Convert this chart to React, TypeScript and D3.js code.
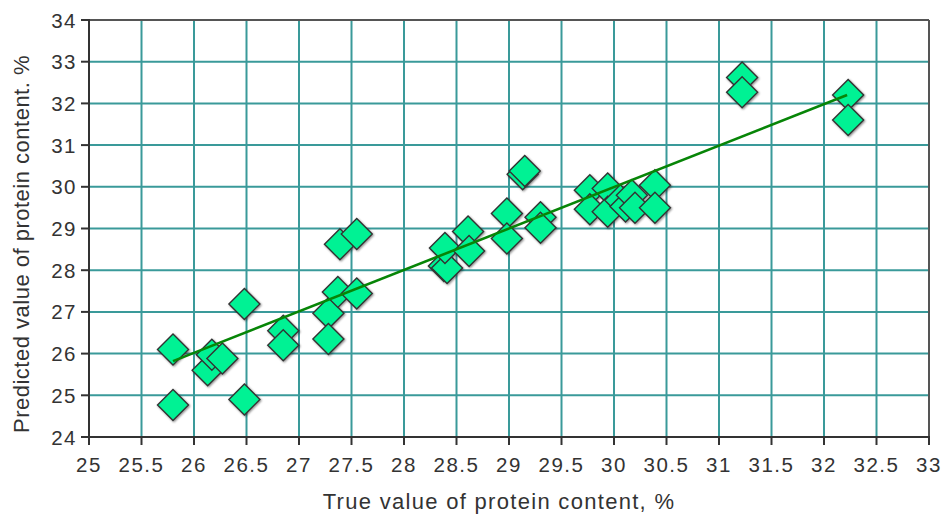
import React from "react";
import * as d3 from "d3";

// Measured protein content (true vs. predicted), %
const trueValues = [
  25.8, 25.8, 26.13, 26.17, 26.27, 26.48, 26.48, 26.85, 26.85,
  27.28, 27.28, 27.39, 27.55, 27.37, 27.55,
  28.38, 28.41, 28.39, 28.61, 28.62, 28.98, 28.98, 29.3, 29.3,
  29.13, 29.15,
  29.77, 29.77, 29.94, 29.94, 30.06, 30.11, 30.17, 30.2, 30.39, 30.39,
  31.22, 31.22, 32.23, 32.23,
];
const predictedValues = [
  26.1, 24.77, 25.6, 25.97, 25.88, 27.19, 24.9, 26.55, 26.2,
  26.97, 26.35, 28.62, 28.87, 27.48, 27.44,
  28.1, 28.05, 28.53, 28.93, 28.46, 29.36, 28.76, 29.27, 29.02,
  30.3, 30.38,
  29.92, 29.46, 29.96, 29.4, 29.68, 29.53, 29.8, 29.5, 30.04, 29.5,
  32.62, 32.27, 32.2, 31.6,
];

// Least-squares calibration line endpoints
const fitX = [25.8, 32.22];
const fitY = [25.82, 32.2];

const xTicks = d3.range(25, 33.001, 0.5);
const yTicks = d3.range(24, 34.001, 1);

const W = 949;
const H = 517;
const plot = { left: 89, right: 929, top: 20, bottom: 437 };

export default function App() {
  const x = d3.scaleLinear().domain([25, 33]).range([plot.left, plot.right]);
  const y = d3.scaleLinear().domain([24, 34]).range([plot.bottom, plot.top]);

  const points = trueValues.map((t, i) => ({ t, p: predictedValues[i] }));
  const r = 15.5;
  const diamond = (cx: number, cy: number) =>
    `M${cx},${cy - r}L${cx + r},${cy}L${cx},${cy + r}L${cx - r},${cy}Z`;

  const fitLine = d3
    .line<number>()
    .x((d) => x(d))
    .y((_, i) => y(fitY[i]));

  const grid = "#3a9a9a";
  const font = "'Liberation Sans', Arial, sans-serif";

  return (
    <svg
      width={W}
      height={H}
      style={{ position: "absolute", left: 0, top: 0, background: "#fff" }}
    >
      <defs>
        <filter id="shade" x="-30%" y="-30%" width="160%" height="160%">
          <feDropShadow dx="1" dy="1" stdDeviation="0.8" floodColor="#000" floodOpacity="0.45" />
        </filter>
      </defs>

      {/* grid */}
      {xTicks.map((v) => (
        <line key={"gx" + v} x1={x(v)} x2={x(v)} y1={plot.top} y2={plot.bottom} stroke={grid} strokeWidth={2} />
      ))}
      {yTicks.map((v) => (
        <line key={"gy" + v} x1={plot.left} x2={plot.right} y1={y(v)} y2={y(v)} stroke={grid} strokeWidth={2} />
      ))}

      {/* frame */}
      <line x1={plot.left} x2={plot.right} y1={plot.top} y2={plot.top} stroke="#555" strokeWidth={2} />
      <line x1={plot.right} x2={plot.right} y1={plot.top} y2={plot.bottom} stroke="#555" strokeWidth={2} />
      <line x1={plot.left} x2={plot.left} y1={plot.top - 1} y2={plot.bottom} stroke="#333" strokeWidth={2} />
      <line x1={plot.left - 1} x2={plot.right + 1} y1={plot.bottom} y2={plot.bottom} stroke="#333" strokeWidth={2} />

      {/* ticks and labels */}
      {xTicks.map((v) => (
        <g key={"tx" + v}>
          <line x1={x(v)} x2={x(v)} y1={plot.bottom} y2={plot.bottom + 8} stroke="#333" strokeWidth={2} />
          <text
            x={x(v)}
            y={plot.bottom + 35}
            textAnchor="middle"
            fontFamily={font}
            fontSize={20.5}
            letterSpacing={1.5}
            fill="#333"
          >
            {d3.format("")(v)}
          </text>
        </g>
      ))}
      {yTicks.map((v) => (
        <g key={"ty" + v}>
          <line x1={plot.left - 8} x2={plot.left} y1={y(v)} y2={y(v)} stroke="#333" strokeWidth={2} />
          <text
            x={plot.left - 12}
            y={y(v) + 7.5}
            textAnchor="end"
            fontFamily={font}
            fontSize={20.5}
            letterSpacing={1.5}
            fill="#333"
          >
            {v}
          </text>
        </g>
      ))}

      {/* points */}
      <g filter="url(#shade)">
        {points.map((d, i) => (
          <path key={i} d={diamond(x(d.t), y(d.p))} fill="#00f294" stroke="#333" strokeWidth={1.4} />
        ))}
      </g>

      {/* calibration line */}
      <path d={fitLine(fitX) || ""} fill="none" stroke="#078507" strokeWidth={2.6} />

      {/* axis titles */}
      <text
        x={499}
        y={509}
        textAnchor="middle"
        fontFamily={font}
        fontSize={22}
        letterSpacing={1.3}
        fill="#333"
      >
        True value of protein content, %
      </text>
      <text
        transform="translate(29, 244) rotate(-90)"
        textAnchor="middle"
        fontFamily={font}
        fontSize={22}
        letterSpacing={0.5}
        fill="#333"
      >
        Predicted value of protein content. %
      </text>
    </svg>
  );
}
